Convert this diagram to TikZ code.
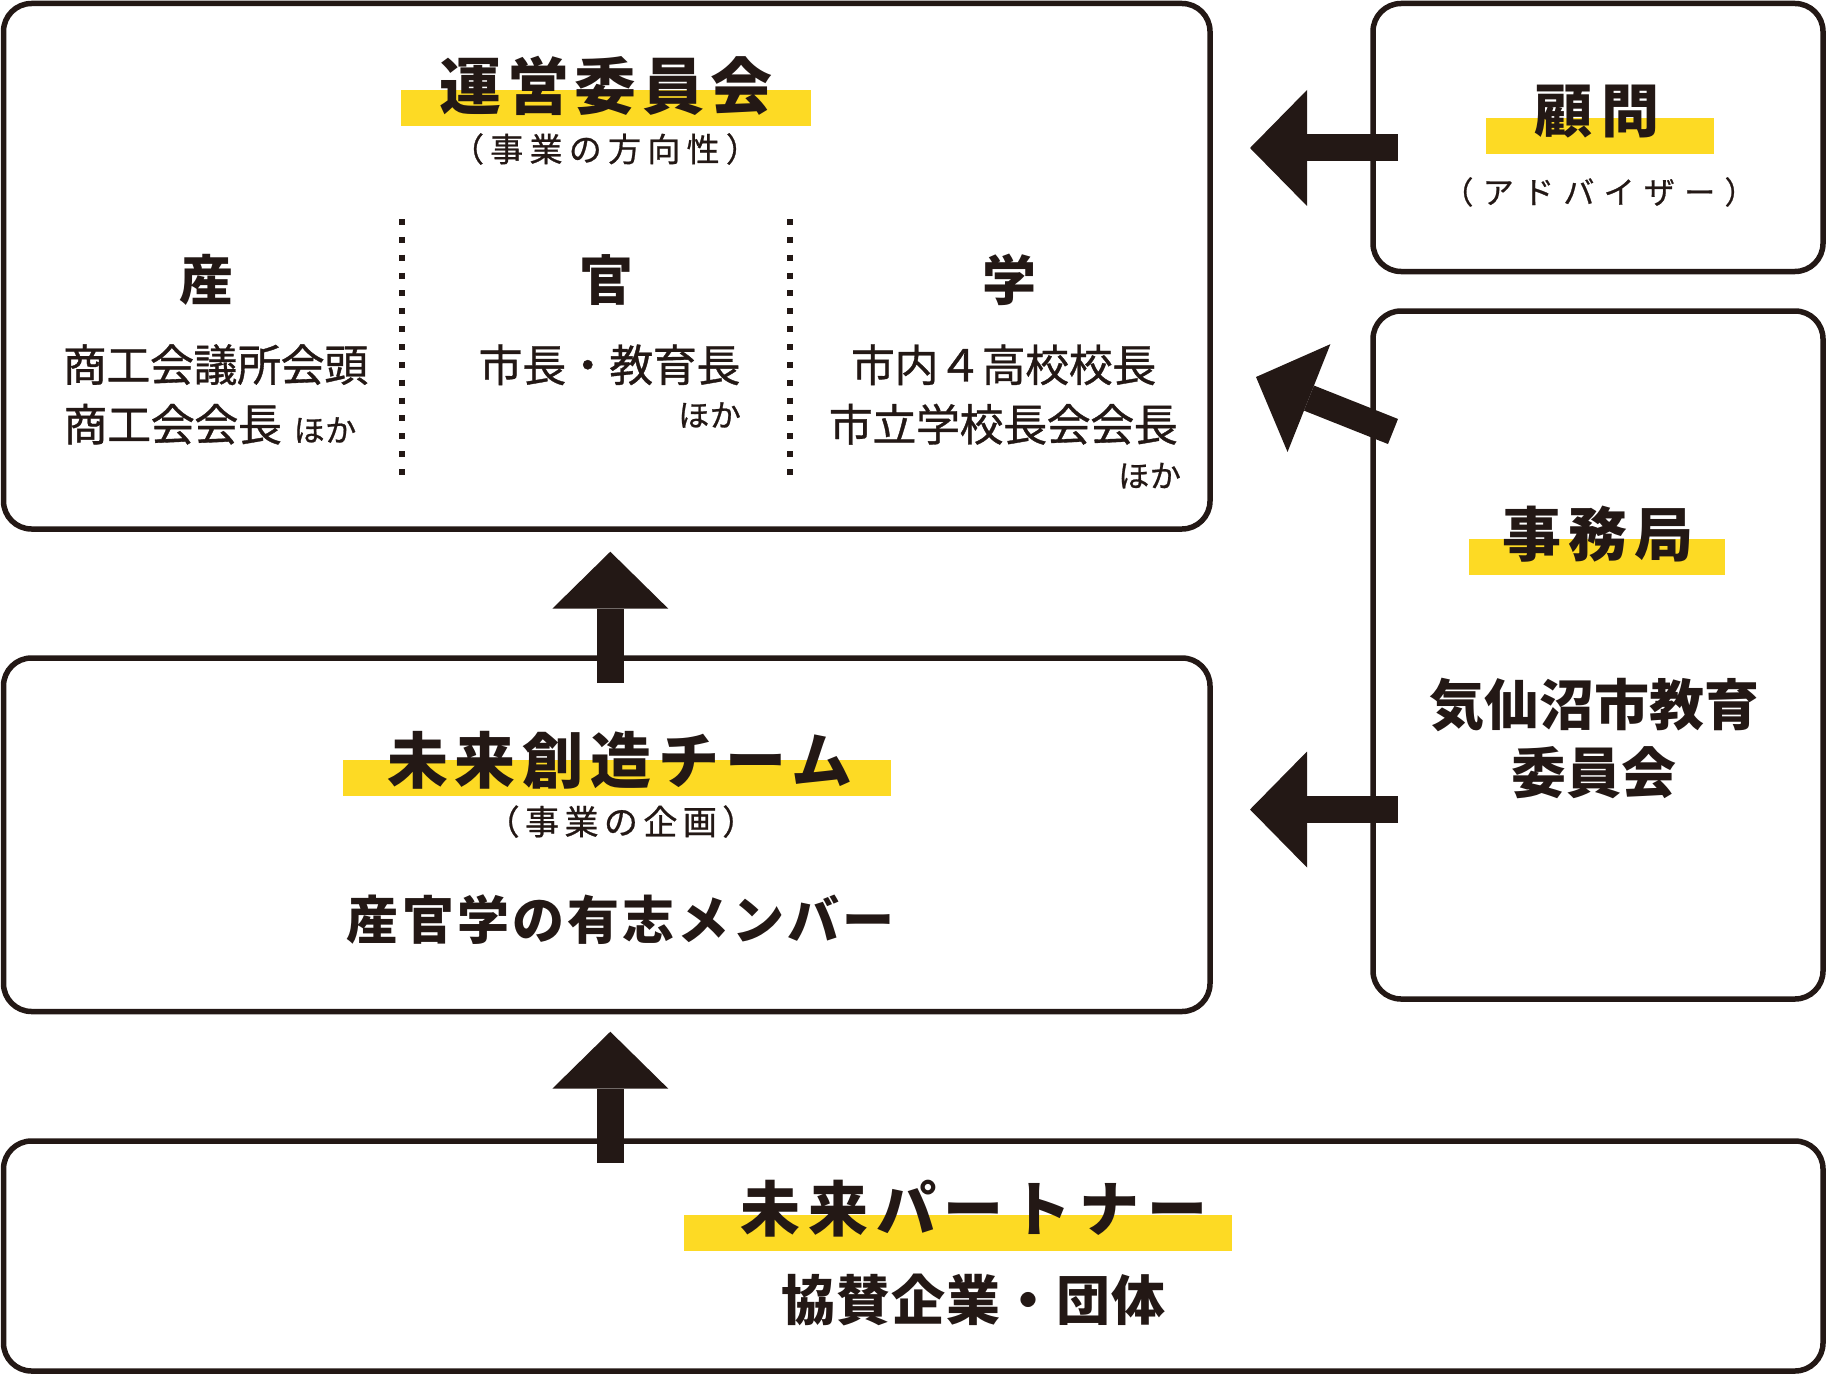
\documentclass[tikz,border=0pt]{standalone}
\usepackage{fontspec}
\setmainfont{Noto Sans CJK JP}
\usetikzlibrary{arrows.meta}
\definecolor{ink}{HTML}{231815}
\definecolor{hl}{HTML}{FDDA24}
\newcommand\jt[3]{\fontsize{#1}{#1}\selectfont\addfontfeatures{LetterSpace=#2}#3}
\newcommand\jm[3]{\fontsize{#1}{#1}\selectfont\addfontfeatures{LetterSpace=#2,FakeBold=0.8}#3}
\begin{document}
\begin{tikzpicture}[x=1pt,y=-1pt,
  box/.style={draw=ink, line width=5.5pt, rounded corners=28pt, inner sep=0pt, minimum width=#1},
  bar/.style={fill=hl, inner sep=0pt, minimum height=36pt, minimum width=#1},
  fat/.style={draw=ink, line width=27pt, -{Triangle[width=116pt,length=57pt,line width=0pt]}},
  txt/.style={text=ink, inner sep=0pt, anchor=center},
  dots/.style={draw=ink, line width=6pt, dash pattern=on 6pt off 11.86pt}]
\useasboundingbox (0,0) rectangle (1830,1375);
% boxes
\node[box=1206.5pt, minimum height=525.5pt] (unei) at (606.75,266.25) {};
\node[box=450pt, minimum height=268pt] (komon) at (1598,137.5) {};
\node[box=450pt, minimum height=688pt] (jimu) at (1598,655) {};
\node[box=1206.5pt, minimum height=353.5pt] (mirai) at (606.75,834.75) {};
\node[box=1819.5pt, minimum height=230pt] (partner) at (913.25,1256) {};
% highlight bars
\node[bar=410pt] (bunei) at (606,108.5) {};
\node[bar=228pt] (bkomon) at (1600,136) {};
\node[bar=256pt] (bjimu) at (1597,557) {};
\node[bar=548pt] (bmirai) at (617,778) {};
\node[bar=548pt] (bpartner) at (958,1233) {};
% dotted separators
\coordinate (d1a) at (402,219); \coordinate (d1b) at (402,476);
\coordinate (d2a) at (790,219); \coordinate (d2b) at (790,476);
\draw[dots] (d1a) -- (d1b);
\draw[dots] (d2a) -- (d2b);
% texts: steering committee
\node[txt] (tunei) at (606,86) {\bfseries\jt{62}{9}{運営委員会}};
\node[txt] (sunei) at (605,149) {\jm{33}{19}{（事業の方向性）}};
\node[txt] (tsan) at (206,280) {\bfseries\jt{54}{0}{産}};
\node[txt] (tkan) at (606.7,280) {\bfseries\jt{54}{0}{官}};
\node[txt] (tgaku) at (1009.5,280) {\bfseries\jt{54}{0}{学}};
\node[txt] (san1) at (215.5,364.7) {\jm{44}{-1}{商工会議所会頭}};
\node[txt] (san2) at (172.7,424.2) {\jm{44}{-1}{商工会会長}};
\node[txt] (san3) at (325,430) {\jm{31}{2}{ほか}};
\node[txt] (kan1) at (609.5,364.7) {\jm{44}{-1}{市長・教育長}};
\node[txt] (kan2) at (709.6,415) {\jm{31}{2}{ほか}};
\node[txt] (gak1) at (1003.6,364.7) {\jm{44}{-1}{市内４高校校長}};
\node[txt] (gak2) at (1003.3,424.2) {\jm{44}{-1}{市立学校長会会長}};
\node[txt] (gak3) at (1149.6,475.6) {\jm{31}{2}{ほか}};
% advisor
\node[txt] (tkomon) at (1597,112) {\bfseries\jt{58}{16}{顧問}};
\node[txt] (skomon) at (1599,192) {\jm{31}{30}{（アドバイザー）}};
% secretariat
\node[txt] (tjimu) at (1597.6,534.5) {\bfseries\jt{59}{12}{事務局}};
\node[txt] (jimu1) at (1594,705) {\bfseries\jt{55}{0}{気仙沼市教育}};
\node[txt] (jimu2) at (1593.5,773) {\bfseries\jt{55}{0}{委員会}};
% future creation team
\node[txt] (tmirai) at (620,760) {\bfseries\jt{61}{11}{未来創造チーム}};
\node[txt] (smirai) at (621,821.6) {\jm{34}{16}{（事業の企画）}};
\node[txt] (mirai1) at (621,920) {\bfseries\jt{52}{6}{産官学の有志メンバー}};
% partners
\node[txt] (tpartner) at (974,1209) {\bfseries\jt{60}{13}{未来パートナー}};
\node[txt] (partner1) at (973.5,1300) {\bfseries\jt{54}{2}{協賛企業・団体}};
% arrows
\coordinate (a1s) at (1398,148);   \coordinate (a1t) at (1250,148);
\coordinate (a2s) at (1393,431.5); \coordinate (a2t) at (1256,377);
\coordinate (a3s) at (1398,809.5); \coordinate (a3t) at (1250,809.5);
\coordinate (a4s) at (610.3,683);  \coordinate (a4t) at (610.3,551.7);
\coordinate (a5s) at (610.3,1163); \coordinate (a5t) at (610.3,1031.7);
\draw[fat] (a1s) -- (a1t);
\draw[fat] (a2s) -- (a2t);
\draw[fat] (a3s) -- (a3t);
\draw[fat] (a4s) -- (a4t);
\draw[fat] (a5s) -- (a5t);
\end{tikzpicture}
\end{document}
